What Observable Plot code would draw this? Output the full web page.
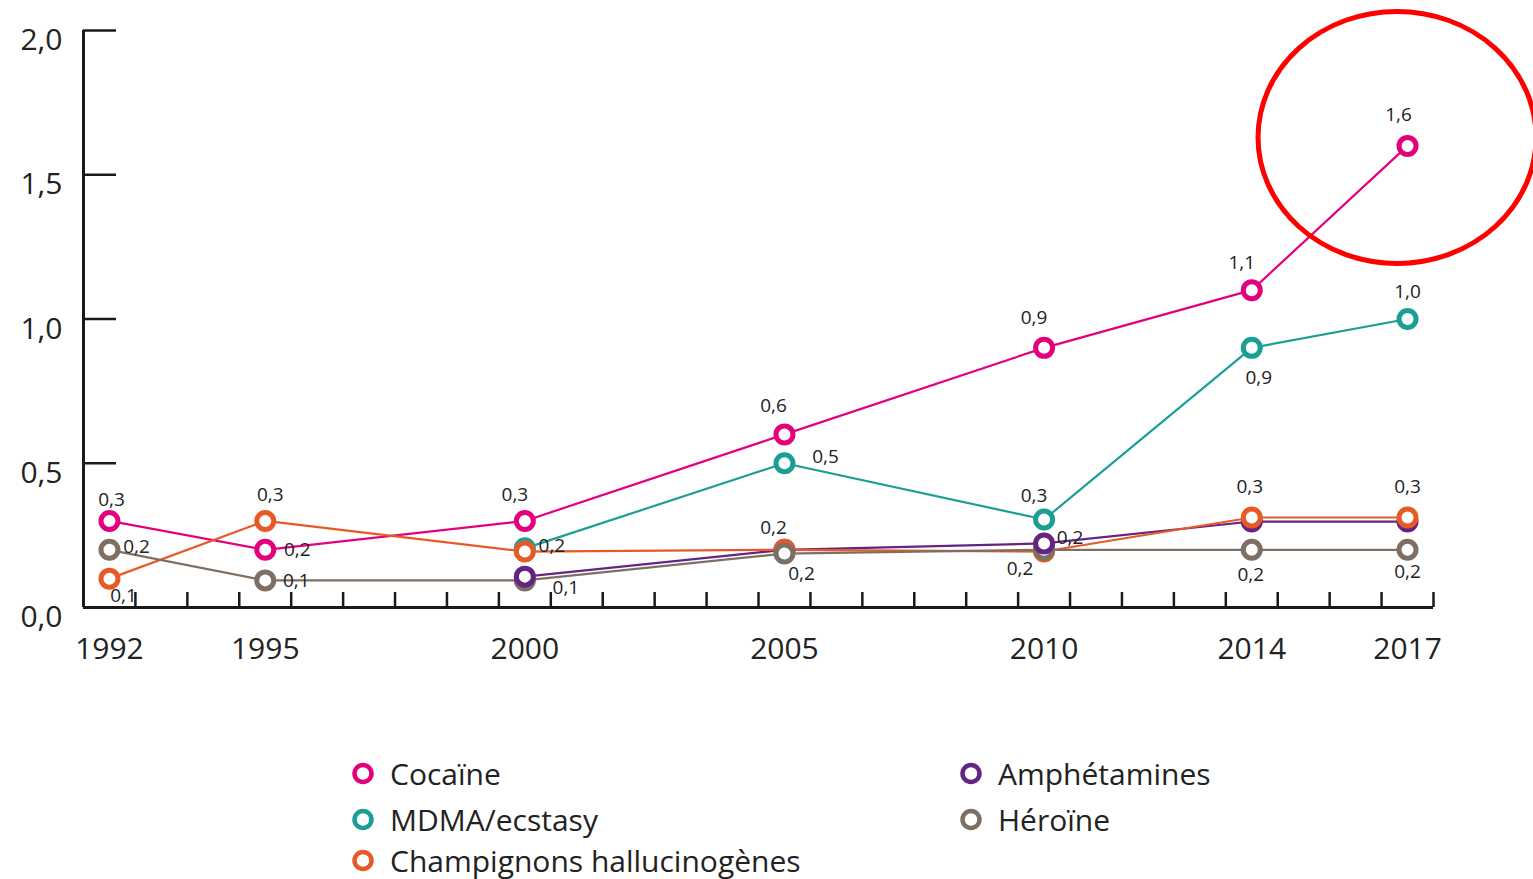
<!DOCTYPE html>
<html>
<head>
<meta charset="utf-8">
<script src="https://cdn.jsdelivr.net/npm/d3@7"></script>
<script src="https://cdn.jsdelivr.net/npm/@observablehq/plot@0.6"></script>
<style>
  html, body { margin: 0; padding: 0; background: #fff; }
  #wrap { position: relative; width: 1533px; height: 879px; font-family: "Open Sans", Lato, sans-serif; }
  #legend { position: absolute; left: 0; top: 0; width: 1533px; height: 879px; pointer-events: none; }
  .item { position: absolute; display: flex; align-items: center; font-size: 30px; line-height: 1.1; color: #222; white-space: nowrap; transform: translateY(-50%); }
  .item svg { margin-right: 14px; }
</style>
</head>
<body>
<div id="wrap"></div>
<script>
// ---- data ----
const years = [1992, 1995, 2000, 2005, 2010, 2014, 2017];
const seriesNames = ["Cocaïne", "MDMA/ecstasy", "Champignons hallucinogènes", "Amphétamines", "Héroïne"];
const cocaine = [0.3, 0.2, 0.3, 0.6, 0.9, 1.1, 1.6];
const mdma = [null, null, 0.205, 0.5, 0.305, 0.9, 1.0];
const champignons = [0.1, 0.3, 0.194, 0.2, 0.194, 0.312, 0.312];
const amphetamines = [null, null, 0.107, 0.2, 0.222, 0.298, 0.298];
const heroine = [0.2, 0.094, 0.094, 0.187, 0.2, 0.2, 0.2];
const yTicks = [0, 0.5, 1.0, 1.5, 2.0];
const xTickLabels = years;

// ---- styles / layout (not data) ----
const colors = {
  "Cocaïne": "#e4007c",
  "MDMA/ecstasy": "#1b9e96",
  "Champignons hallucinogènes": "#e85a25",
  "Amphétamines": "#632483",
  "Héroïne": "#7d6f63"
};
const seriesValues = {
  "Cocaïne": cocaine,
  "MDMA/ecstasy": mdma,
  "Champignons hallucinogènes": champignons,
  "Amphétamines": amphetamines,
  "Héroïne": heroine
};
const drawOrder = ["Cocaïne", "MDMA/ecstasy", "Amphétamines", "Champignons hallucinogènes", "Héroïne"];
const raised = [["Amphétamines", 2000], ["Amphétamines", 2010]];

// label placements: [series, year, dx, dy]
const labelPlacements = [
  ["Cocaïne", 1992, 2, -21], ["Cocaïne", 1995, 32, 0], ["Cocaïne", 2000, -10, -26],
  ["Cocaïne", 2005, -11, -28], ["Cocaïne", 2010, -10, -30], ["Cocaïne", 2014, -10, -27],
  ["Cocaïne", 2017, -9, -31],
  ["MDMA/ecstasy", 2000, 27, -2], ["MDMA/ecstasy", 2005, 41, -6], ["MDMA/ecstasy", 2010, -10, -24],
  ["MDMA/ecstasy", 2014, 7, 30], ["MDMA/ecstasy", 2017, 0, -27],
  ["Champignons hallucinogènes", 1992, 14, 17], ["Champignons hallucinogènes", 1995, 5, -26],
  ["Champignons hallucinogènes", 2005, -11, -22], ["Champignons hallucinogènes", 2010, -24, 17],
  ["Champignons hallucinogènes", 2014, -2, -31], ["Champignons hallucinogènes", 2017, 0, -31],
  ["Amphétamines", 2000, 41, 11], ["Amphétamines", 2010, 26, -6],
  ["Héroïne", 1992, 27, -3], ["Héroïne", 1995, 31, 1], ["Héroïne", 2005, 17, 20],
  ["Héroïne", 2014, -1, 25], ["Héroïne", 2017, 0, 22]
];

// build table
const rows = [];
for (const s of drawOrder) {
  seriesValues[s].forEach((v, i) => {
    if (v != null) rows.push({series: s, year: years[i], value: v});
  });
}
const isRaised = d => raised.some(([s, y]) => s === d.series && y === d.year);
const dotRows = [...rows.filter(d => !isRaised(d)), ...rows.filter(isRaised)];
const fmt = v => d3.format(".1f")(v).replace(".", ",");
const boundaries = d3.range(years[0] + 0.5, years[years.length - 1] + 1, 1);

const W = 1533, H = 690;
const mL = 83, mR = 100, mT = 30, mB = 83;
const frameH = H - mT - mB, frameW = W - mL - mR;

const labelMarks = labelPlacements.map(([s, yr, dx, dy]) => {
  const r = rows.find(d => d.series === s && d.year === yr);
  return Plot.text([r], {x: "year", y: "value", text: d => fmt(d.value), dx, dy,
    fontSize: 19, fill: "#222", textAnchor: "middle"});
});

const plot = Plot.plot({
  width: W, height: H,
  marginLeft: mL, marginRight: mR, marginTop: mT, marginBottom: mB,
  style: {fontFamily: "'Open Sans', Lato, sans-serif", background: "#fff", overflow: "visible"},
  x: {domain: [years[0] - 0.5, years[years.length - 1] + 0.5], label: null},
  y: {domain: [0, 2], label: null},
  marks: [
    // axis ticks (inward)
    Plot.ruleX(boundaries, {stroke: "#1a1a1a", strokeWidth: 2.5, insetTop: frameH - 15}),
    Plot.ruleY(yTicks.slice(1), {stroke: "#1a1a1a", strokeWidth: 2.5, insetRight: frameW - 33}),
    // axis lines
    Plot.ruleX([years[0] - 0.5], {stroke: "#1a1a1a", strokeWidth: 3}),
    Plot.ruleY([0], {stroke: "#1a1a1a", strokeWidth: 3}),
    Plot.axisX({ticks: xTickLabels, tickSize: 0, tickPadding: 30, tickFormat: d => String(d), fontSize: 30, color: "#222", label: null}),
    Plot.axisY({ticks: yTicks, tickSize: 0, tickPadding: 21, tickFormat: d => fmt(d), fontSize: 30, dy: 10, color: "#222", label: null}),
    // lines
    ...drawOrder.map(s => Plot.line(rows.filter(d => d.series === s), {x: "year", y: "value", stroke: colors[s], strokeWidth: 2.2})),
    // points
    Plot.dot(dotRows, {x: "year", y: "value", r: 8.5, stroke: d => colors[d.series], strokeWidth: 5, fill: "#fff"}),
    ...labelMarks
  ]
});

// red annotation circle around the 2017 cocaine point
{
  const xs = plot.scale("x"), ys = plot.scale("y");
  const cx = xs.apply(2017) - 10, cy = ys.apply(1.6) - 8;
  d3.select(plot).append("ellipse")
    .attr("cx", cx).attr("cy", cy).attr("rx", 139).attr("ry", 126)
    .attr("fill", "none").attr("stroke", "#ff0000").attr("stroke-width", 5);
}

const wrap = document.getElementById("wrap");
wrap.appendChild(plot);

// legend
const legendPos = [
  ["Cocaïne", 350, 773], ["MDMA/ecstasy", 350, 819], ["Champignons hallucinogènes", 350, 860],
  ["Amphétamines", 958, 773], ["Héroïne", 958, 819]
];
const legend = document.createElement("div");
legend.id = "legend";
for (const [name, x, y] of legendPos) {
  const it = document.createElement("div");
  it.className = "item";
  it.style.left = x + "px";
  it.style.top = y + "px";
  it.innerHTML = `<svg width="26" height="26"><circle cx="13" cy="13" r="8.5" fill="#fff" stroke="${colors[name]}" stroke-width="4.5"/></svg><span>${name}</span>`;
  legend.appendChild(it);
}
wrap.appendChild(legend);
</script>
</body>
</html>
